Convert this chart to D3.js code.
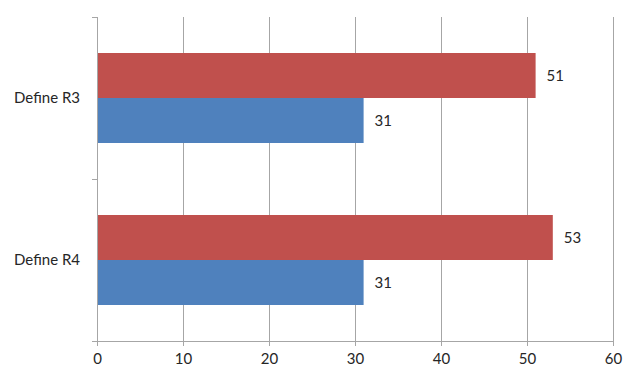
<!DOCTYPE html>
<html>
<head>
<meta charset="utf-8">
<script src="https://cdn.jsdelivr.net/npm/d3@7"></script>
<style>
  body { margin: 0; background: #fff; }
  text { font-family: Lato, "Open Sans", sans-serif; fill: #262626; }
</style>
</head>
<body>
<div id="chart"></div>
<script>
// categories and series (top to bottom inside each group)
const categories = ["Define R3", "Define R4"];
const seriesNames = ["red", "blue"];
const redValues = [51, 53];
const blueValues = [31, 31];
const xTicks = [0, 10, 20, 30, 40, 50, 60];
const seriesColors = {red: "#C0504D", blue: "#4F81BD"};

const W = 640, H = 382;
const margin = {top: 17, right: 27, bottom: 41, left: 97};
const width = W - margin.left - margin.right,
      height = H - margin.top - margin.bottom;

const svg = d3.select("#chart")
    .append("svg")
    .attr("width", W)
    .attr("height", H)
    .append("g")
    .attr("transform", `translate(${margin.left},${margin.top})`);

// scales
const x = d3.scaleLinear().domain([0, 60]).range([0, width]);
const y0 = d3.scaleBand().domain(categories).range([0, height]).padding(0);
const y1 = d3.scaleBand().domain(seriesNames).range([0, y0.bandwidth()])
    .paddingInner(0).paddingOuter(0.8);

// vertical gridlines
svg.append("g")
    .selectAll("line")
    .data(xTicks.slice(1))
    .join("line")
    .attr("x1", d => x(d)).attr("x2", d => x(d))
    .attr("y1", 0).attr("y2", height)
    .attr("stroke", "#a6a6a6")
    .attr("stroke-width", 1)
    .attr("shape-rendering", "crispEdges");

// data rows
const rows = categories.map((c, i) => ({
    cat: c,
    vals: [{s: "red", v: redValues[i]}, {s: "blue", v: blueValues[i]}]
}));

const groups = svg.selectAll("g.grp")
    .data(rows)
    .join("g")
    .attr("class", "grp")
    .attr("transform", d => `translate(0,${y0(d.cat)})`);

groups.selectAll("rect")
    .data(d => d.vals)
    .join("rect")
    .attr("x", x(0))
    .attr("y", d => y1(d.s))
    .attr("width", d => x(d.v) - x(0))
    .attr("height", y1.bandwidth())
    .attr("fill", d => seriesColors[d.s]);

groups.selectAll("text")
    .data(d => d.vals)
    .join("text")
    .attr("x", d => x(d.v) + 11)
    .attr("y", d => y1(d.s) + y1.bandwidth() / 2)
    .attr("dy", "0.35em")
    .style("font-size", "15px")
    .text(d => d.v);

// x axis
const xAxis = svg.append("g")
    .attr("transform", `translate(0,${height})`)
    .call(d3.axisBottom(x).tickValues(xTicks).tickSize(5).tickSizeOuter(0).tickPadding(7));
xAxis.selectAll("line, path").attr("stroke", "#a6a6a6");
xAxis.selectAll("text").style("font-size", "15px").attr("fill", "#262626");

// y axis with ticks on band boundaries
const yAxis = svg.append("g");
yAxis.append("line")
    .attr("x1", 0).attr("x2", 0)
    .attr("y1", 0).attr("y2", height)
    .attr("stroke", "#a6a6a6")
    .attr("shape-rendering", "crispEdges");
const bounds = categories.map(c => y0(c)).concat([height]);
yAxis.selectAll("line.tick")
    .data(bounds)
    .join("line")
    .attr("class", "tick")
    .attr("x1", -5).attr("x2", 0)
    .attr("y1", d => d).attr("y2", d => d)
    .attr("stroke", "#a6a6a6")
    .attr("shape-rendering", "crispEdges");
yAxis.selectAll("text")
    .data(categories)
    .join("text")
    .attr("x", -17)
    .attr("y", d => y0(d) + y0.bandwidth() / 2)
    .attr("dy", "0.35em")
    .attr("text-anchor", "end")
    .style("font-size", "15px")
    .text(d => d);
</script>
</body>
</html>
